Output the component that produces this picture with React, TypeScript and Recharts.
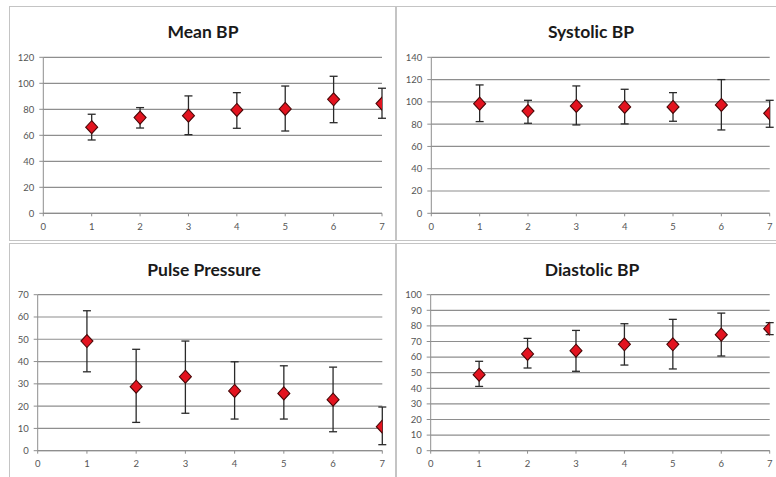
import React from "react";
import { ScatterChart, Scatter, XAxis, YAxis, CartesianGrid, ErrorBar } from "recharts";

const xValues = [1, 2, 3, 4, 5, 6, 7];
const xTicks = [0, 1, 2, 3, 4, 5, 6, 7];

const meanBP = [66.2, 73.6, 75.1, 79.5, 80.3, 87.7, 84.4];
const meanHigh = [76.2, 81.3, 90.3, 92.8, 97.9, 105.4, 96.2];
const meanLow = [56.4, 65.6, 60.5, 65.4, 63.3, 69.7, 73.1];
const meanTicks = [0, 20, 40, 60, 80, 100, 120];

const systolicBP = [98.4, 91.8, 96.3, 95.4, 95.4, 97.2, 89.7];
const systolicHigh = [115.2, 101.4, 114.3, 111.3, 108.3, 120.0, 101.4];
const systolicLow = [82.3, 80.8, 79.3, 80.2, 82.6, 74.8, 77.2];
const systolicTicks = [0, 20, 40, 60, 80, 100, 120, 140];

const pulsePressure = [49.2, 28.7, 33.2, 26.8, 25.7, 22.9, 10.8];
const pulseHigh = [62.8, 45.5, 49.2, 39.9, 38.1, 37.5, 19.6];
const pulseLow = [35.4, 12.7, 16.8, 14.2, 14.2, 8.5, 2.7];
const pulseTicks = [0, 10, 20, 30, 40, 50, 60, 70];

const diastolicBP = [48.7, 62.0, 64.1, 68.2, 68.2, 74.4, 78.2];
const diastolicHigh = [57.3, 72.0, 77.1, 81.4, 84.2, 88.2, 82.1];
const diastolicLow = [41.2, 53.0, 50.9, 54.9, 52.4, 60.7, 74.4];
const diastolicTicks = [0, 10, 20, 30, 40, 50, 60, 70, 80, 90, 100];

const FONT = "Lato, 'Liberation Sans', sans-serif";

function build(means: number[], lows: number[], highs: number[]) {
  return xValues.map((x, i) => ({
    x,
    y: means[i],
    err: [+(means[i] - lows[i]).toFixed(2), +(highs[i] - means[i]).toFixed(2)],
  }));
}

const Diamond = (props: any) => {
  const { cx, cy } = props;
  if (cx == null || cy == null) return null;
  const w = 6;
  const h = 6.5;
  return (
    <polygon
      points={`${cx},${cy - h} ${cx + w},${cy} ${cx},${cy + h} ${cx - w},${cy}`}
      fill="#e3131f"
      stroke="#4a0808"
      strokeWidth={1.1}
    />
  );
};

type PanelProps = {
  title: string;
  left: number;
  top: number;
  width: number;
  height: number;
  marginTop: number;
  marginRight: number;
  yAxisWidth: number;
  xAxisHeight: number;
  yTicks: number[];
  data: any[];
  titleX: number;
  titleY: number;
};

function Panel(p: PanelProps) {
  const tickStyle = { fontSize: 9.5, fill: "#555", fontFamily: FONT };
  return (
    <>
      <div
        style={{
          position: "absolute",
          left: p.titleX - 100,
          top: p.titleY - 11,
          width: 200,
          height: 22,
          lineHeight: "22px",
          textAlign: "center",
          fontFamily: FONT,
          fontWeight: 700,
          fontSize: 17.5,
          color: "#1a1a1a",
        }}
      >
        {p.title}
      </div>
      <div style={{ position: "absolute", left: p.left, top: p.top }}>
        <ScatterChart
          width={p.width}
          height={p.height}
          margin={{ top: p.marginTop, right: p.marginRight, bottom: 0, left: 0 }}
        >
          <CartesianGrid vertical={false} stroke="#8e8e8e" strokeWidth={1.2} />
          <XAxis
            type="number"
            dataKey="x"
            domain={[0, 7]}
            ticks={xTicks}
            interval={0}
            height={p.xAxisHeight}
            stroke="#8e8e8e"
            tickSize={3}
            tickMargin={7}
            tick={tickStyle}
            allowDataOverflow
          />
          <YAxis
            type="number"
            dataKey="y"
            domain={[p.yTicks[0], p.yTicks[p.yTicks.length - 1]]}
            ticks={p.yTicks}
            interval={0}
            width={p.yAxisWidth}
            stroke="#8e8e8e"
            tickSize={4}
            tickMargin={5}
            tick={tickStyle}
            allowDataOverflow
          />
          <Scatter data={p.data} shape={Diamond} isAnimationActive={false}>
            <ErrorBar
              dataKey="err"
              direction="y"
              width={4}
              strokeWidth={1.3}
              stroke="#2a2a2a"
            />
          </Scatter>
        </ScatterChart>
      </div>
    </>
  );
}

const borderColor = "#c4c4c4";

export default function App() {
  return (
    <div
      style={{
        position: "absolute",
        left: 0,
        top: 0,
        width: 776,
        height: 477,
        overflow: "hidden",
        background: "#fff",
      }}
    >
      <div style={{ position: "absolute", left: 9, top: 6, width: 387, height: 235, border: `1.5px solid ${borderColor}`, boxSizing: "border-box" }} />
      <div style={{ position: "absolute", left: 396, top: 6, width: 400, height: 235, border: `1.5px solid ${borderColor}`, boxSizing: "border-box" }} />
      <div style={{ position: "absolute", left: 9, top: 243, width: 387, height: 260, border: `1.5px solid ${borderColor}`, boxSizing: "border-box" }} />
      <div style={{ position: "absolute", left: 396, top: 243, width: 400, height: 260, border: `1.5px solid ${borderColor}`, boxSizing: "border-box" }} />

      <Panel
        title="Mean BP"
        left={9}
        top={7}
        width={387}
        height={234}
        marginTop={50.3}
        marginRight={14}
        yAxisWidth={34.3}
        xAxisHeight={27.7}
        yTicks={meanTicks}
        data={build(meanBP, meanLow, meanHigh)}
        titleX={203}
        titleY={32}
      />
      <Panel
        title="Systolic BP"
        left={397}
        top={7}
        width={379}
        height={234}
        marginTop={50.3}
        marginRight={6.3}
        yAxisWidth={34.3}
        xAxisHeight={27.7}
        yTicks={systolicTicks}
        data={build(systolicBP, systolicLow, systolicHigh)}
        titleX={591}
        titleY={32}
      />
      <Panel
        title="Pulse Pressure"
        left={9}
        top={244}
        width={387}
        height={233}
        marginTop={50.7}
        marginRight={13.7}
        yAxisWidth={28.7}
        xAxisHeight={26.3}
        yTicks={pulseTicks}
        data={build(pulsePressure, pulseLow, pulseHigh)}
        titleX={204}
        titleY={270}
      />
      <Panel
        title="Diastolic BP"
        left={397}
        top={244}
        width={379}
        height={233}
        marginTop={50.7}
        marginRight={6.3}
        yAxisWidth={33.7}
        xAxisHeight={26.3}
        yTicks={diastolicTicks}
        data={build(diastolicBP, diastolicLow, diastolicHigh)}
        titleX={592}
        titleY={270}
      />
    </div>
  );
}
